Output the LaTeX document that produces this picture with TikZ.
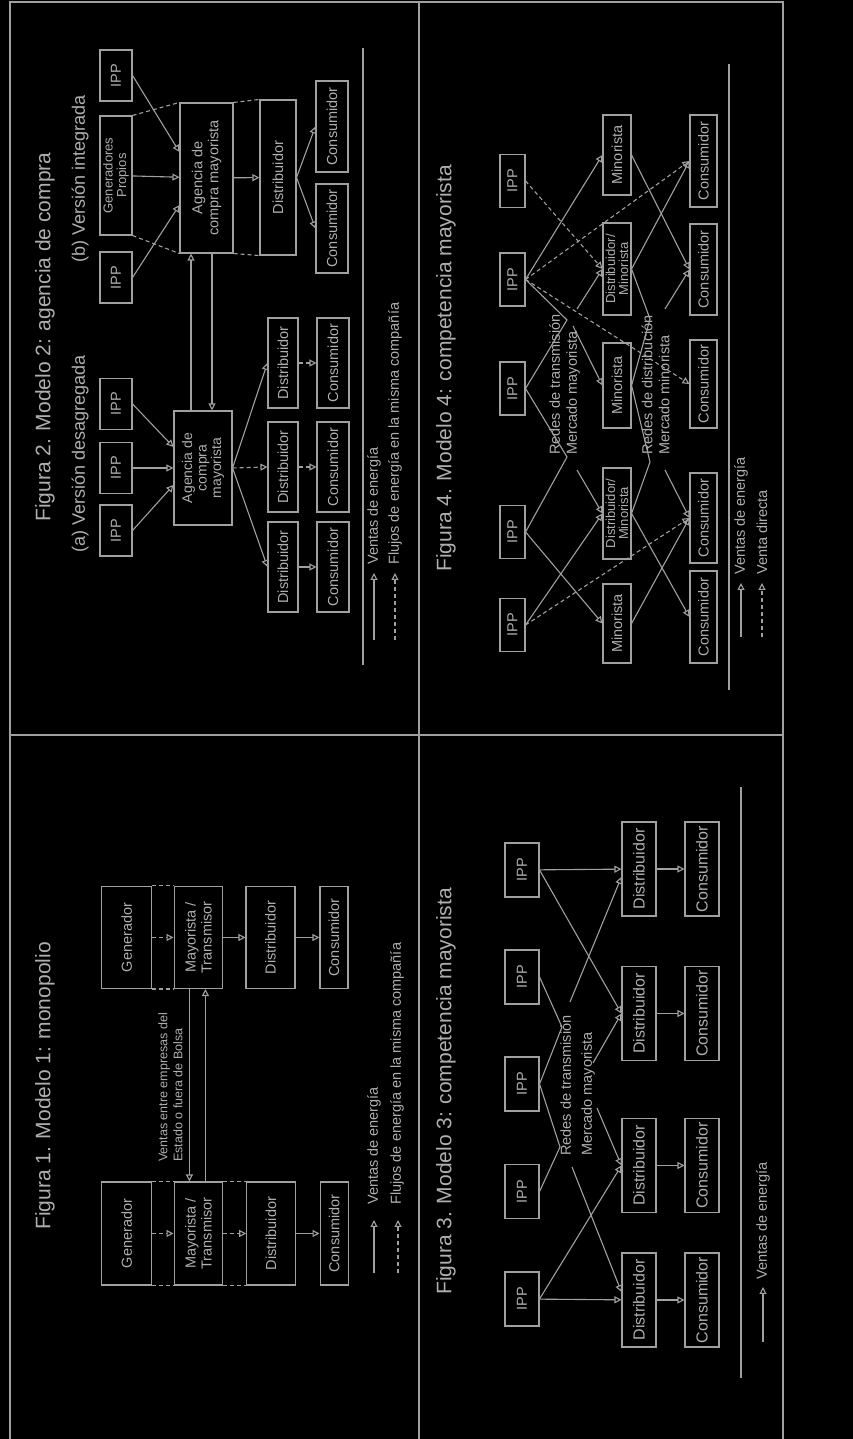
\documentclass[tikz,border=0pt]{standalone}
\usepackage{fontspec}
\setmainfont{Liberation Sans}
\usetikzlibrary{arrows.meta,calc}
\definecolor{figline}{RGB}{160,160,160}
\definecolor{figtext}{RGB}{175,175,175}
\newcommand{\ttlfont}{\fontsize{21}{25}\selectfont}
\newcommand{\subfont}{\fontsize{18}{21}\selectfont}
\newcommand{\boxfont}{\fontsize{14.5}{16}\selectfont}
\newcommand{\lblfont}{\fontsize{14.5}{21}\selectfont}

\begin{document}
\begin{tikzpicture}[x=1pt, y=1pt, rotate=90, transform shape,
    box/.style={rectangle, draw=figline, line width=1.1pt, inner sep=0pt, align=center, text=figtext, font=\boxfont},
    ttl/.style={anchor=west, inner sep=0pt, text=figtext, font=\ttlfont},
    sub/.style={anchor=west, inner sep=0pt, text=figtext, font=\subfont},
    lbl/.style={anchor=west, inner sep=0pt, align=left, text=figtext, font=\lblfont},
    edge/.style={draw=figline, line width=1.1pt},
    sale/.style={edge, -{Triangle[open, length=7pt, width=7pt]}},
    flow/.style={sale, dash pattern=on 4pt off 3pt},
    link/.style={edge, dash pattern=on 4pt off 3pt}
  ]
  % page and frame
  \fill[black] (0,0) rectangle (1439,-853);
  \useasboundingbox (0,0) rectangle (1439,-853);
  \coordinate (fr1) at (0,-10);
  \coordinate (fr2) at (1437,-10);
  \coordinate (fr3) at (1437,-783);
  \coordinate (fr4) at (0,-783);
  \coordinate (fr5) at (0,-419);
  \coordinate (fr6) at (1437,-419);
  \coordinate (fr7) at (704,-10);
  \coordinate (fr8) at (704,-783);
  \draw[edge] (fr1) -- (fr2) -- (fr3) -- (fr4);
  \draw[edge] (fr5) -- (fr6);
  \draw[edge] (fr7) -- (fr8);

  % Figura 1: monopolio
  \node[ttl] (t1) at (209,-45) {Figura 1. Modelo 1: monopolio};
  \node[box, minimum width=103, minimum height=50] (f1genA) at (205.5,-126.7) {Generador};
  \node[box, minimum width=103, minimum height=48.7] (f1mayA) at (205.5,-198.4) {Mayorista /\\Transmisor};
  \node[box, minimum width=103, minimum height=48.3] (f1disA) at (205.5,-270.9) {Distribuidor};
  \node[box, minimum width=103, minimum height=28.3] (f1conA) at (205.5,-334.2) {Consumidor};
  \node[box, minimum width=102, minimum height=50] (f1genB) at (501.5,-126.7) {Generador};
  \node[box, minimum width=102, minimum height=48.7] (f1mayB) at (501.5,-198.4) {Mayorista /\\Transmisor};
  \node[box, minimum width=102, minimum height=49] (f1disB) at (501.5,-270.5) {Distribuidor};
  \node[box, minimum width=102, minimum height=28] (f1conB) at (501.5,-334) {Consumidor};
  \draw[link] (f1genA.south west) -- (f1mayA.north west);
  \draw[link] (f1genA.south east) -- (f1mayA.north east);
  \draw[link] (f1mayA.south west) -- (f1disA.north west);
  \draw[link] (f1mayA.south east) -- (f1disA.north east);
  \draw[link] (f1genB.south west) -- (f1mayB.north west);
  \draw[link] (f1genB.south east) -- (f1mayB.north east);
  \draw[flow] (f1genA) -- (f1mayA);
  \draw[flow] (f1mayA) -- (f1disA);
  \draw[sale] (f1disA) -- (f1conA);
  \draw[flow] (f1genB) -- (f1mayB);
  \draw[sale] (f1mayB) -- (f1disB);
  \draw[sale] (f1disB) -- (f1conB);
  \draw[sale] ($(f1mayB.west)+(0,9)$) -- ($(f1mayA.east)+(0,9)$);
  \draw[sale] ($(f1mayA.east)+(0,-7)$) -- ($(f1mayB.west)+(0,-7)$);
  \node[lbl, font=\fontsize{12.5}{15}\selectfont] (f1note) at (277,-170.5) {Ventas entre empresas del\\Estado o fuera de Bolsa};
  % legend 1
  \coordinate (l1a) at (166,-374);
  \coordinate (l1b) at (219,-374);
  \coordinate (l1c) at (166,-398);
  \coordinate (l1d) at (219,-398);
  \draw[sale] (l1a) -- (l1b);
  \draw[flow] (l1c) -- (l1d);
  \node[lbl] (l1s) at (234,-374) {Ventas de energía};
  \node[lbl] (l1f) at (234,-397) {Flujos de energía en la misma compañía};

  % Figura 2: agencia de compra
  \node[ttl] (t2) at (917,-45) {Figura 2. Modelo 2: agencia de compra};
  \node[sub] (t2a) at (886,-80) {(a) Versión desagregada};
  \node[sub] (t2b) at (1176,-80) {(b) Versión integrada};
  % (a)
  \node[box, minimum width=51, minimum height=32] (f2ipp1) at (908.5,-116) {IPP};
  \node[box, minimum width=51, minimum height=32] (f2ipp2) at (971,-116) {IPP};
  \node[box, minimum width=51, minimum height=32] (f2ipp3) at (1035,-116) {IPP};
  \node[box, minimum width=114, minimum height=58, font=\fontsize{14}{14.5}\selectfont] (f2aga) at (971,-203) {Agencia de\\compra\\mayorista};
  \node[box, minimum width=90, minimum height=30] (f2dis1) at (872,-283) {Distribuidor};
  \node[box, minimum width=90, minimum height=30] (f2dis2) at (972,-283) {Distribuidor};
  \node[box, minimum width=90, minimum height=30] (f2dis3) at (1076,-283) {Distribuidor};
  \node[box, minimum width=90, minimum height=32] (f2con1) at (872,-333) {Consumidor};
  \node[box, minimum width=90, minimum height=32] (f2con2) at (972,-333) {Consumidor};
  \node[box, minimum width=90, minimum height=32] (f2con3) at (1076,-333) {Consumidor};
  \draw[sale] (f2ipp1.south) -- ($(f2aga.north)+(-17,0)$);
  \draw[sale] (f2ipp2) -- (f2aga);
  \draw[sale] (f2ipp3.south) -- ($(f2aga.north)+(21,0)$);
  \draw[sale] (f2aga.south) -- (f2dis1.north);
  \draw[flow] (f2aga.south) -- (f2dis2.north);
  \draw[sale] (f2aga.south) -- (f2dis3.north);
  \draw[sale] (f2dis1) -- (f2con1);
  \draw[flow] (f2dis2) -- (f2con2);
  \draw[flow] (f2dis3) -- (f2con3);
  % (b)
  \node[box, minimum width=51, minimum height=32] (f2ipp4) at (1161.5,-116) {IPP};
  \node[box, minimum width=119, minimum height=32, font=\fontsize{13}{13.5}\selectfont] (f2gen) at (1263.5,-116) {Generadores\\Propios};
  \node[box, minimum width=51, minimum height=32] (f2ipp5) at (1363.5,-116) {IPP};
  \node[box, minimum width=150, minimum height=53] (f2agb) at (1261,-206.5) {Agencia de\\compra mayorista};
  \node[box, minimum width=155, minimum height=36] (f2disb) at (1261.5,-278) {Distribuidor};
  \node[box, minimum width=89, minimum height=32] (f2con4) at (1210.5,-332) {Consumidor};
  \node[box, minimum width=91, minimum height=32] (f2con5) at (1312.5,-332) {Consumidor};
  \draw[link] (f2gen.south west) -- (f2agb.north west);
  \draw[link] (f2gen.south east) -- (f2agb.north east);
  \draw[link] (f2agb.south west) -- (f2disb.north west);
  \draw[link] (f2agb.south east) -- (f2disb.north east);
  \draw[sale] (f2ipp4.south) -- ($(f2agb.north)+(-27,0)$);
  \draw[sale] (f2gen) -- (f2agb);
  \draw[sale] (f2ipp5.south) -- ($(f2agb.north)+(26,0)$);
  \draw[sale] (f2agb) -- (f2disb);
  \draw[sale] (f2disb.south) -- (f2con4.north);
  \draw[sale] (f2disb.south) -- (f2con5.north);
  % between (a) and (b)
  \draw[sale] ($(f2aga.east)+(0,12)$) -- ($(f2agb.west)+(0,15.5)$);
  \draw[sale] ($(f2agb.west)+(0,-5.5)$) -- ($(f2aga.east)+(0,-9)$);
  % legend 2
  \coordinate (s2a) at (774,-363);
  \coordinate (s2b) at (1391,-363);
  \draw[edge] (s2a) -- (s2b);
  \coordinate (l2a) at (799,-374);
  \coordinate (l2b) at (866,-374);
  \coordinate (l2c) at (799,-395);
  \coordinate (l2d) at (866,-395);
  \draw[sale] (l2a) -- (l2b);
  \draw[flow] (l2c) -- (l2d);
  \node[lbl] (l2s) at (874,-374) {Ventas de energía};
  \node[lbl] (l2f) at (874,-395) {Flujos de energía en la misma compañía};

  % Figura 3: competencia mayorista
  \node[ttl] (t3) at (144,-446) {Figura 3. Modelo 3: competencia mayorista};
  \node[box, minimum width=54, minimum height=34] (f3ipp1) at (140,-522) {IPP};
  \node[box, minimum width=54, minimum height=34] (f3ipp2) at (247.5,-522) {IPP};
  \node[box, minimum width=54, minimum height=34] (f3ipp3) at (355,-522) {IPP};
  \node[box, minimum width=54, minimum height=34] (f3ipp4) at (462,-522) {IPP};
  \node[box, minimum width=54, minimum height=34] (f3ipp5) at (569,-522) {IPP};
  \node[box, minimum width=94, minimum height=34, font=\fontsize{16}{18}\selectfont] (f3dis1) at (139,-639) {Distribuidor};
  \node[box, minimum width=94, minimum height=34, font=\fontsize{16}{18}\selectfont] (f3dis2) at (273.5,-639) {Distribuidor};
  \node[box, minimum width=94, minimum height=34, font=\fontsize{16}{18}\selectfont] (f3dis3) at (425.5,-639) {Distribuidor};
  \node[box, minimum width=94, minimum height=34, font=\fontsize{16}{18}\selectfont] (f3dis4) at (570,-639) {Distribuidor};
  \node[box, minimum width=94, minimum height=34, font=\fontsize{16}{18}\selectfont] (f3con1) at (139,-702) {Consumidor};
  \node[box, minimum width=94, minimum height=34, font=\fontsize{16}{18}\selectfont] (f3con2) at (273.5,-702) {Consumidor};
  \node[box, minimum width=94, minimum height=34, font=\fontsize{16}{18}\selectfont] (f3con3) at (425.5,-702) {Consumidor};
  \node[box, minimum width=94, minimum height=34, font=\fontsize{16}{18}\selectfont] (f3con4) at (570,-702) {Consumidor};
  \node[lbl] (f3net) at (283,-577.5) {Redes de transmisión\\Mercado mayorista};
  \coordinate (f3v1) at (292,-560);
  \coordinate (f3v2) at (412,-562);
  \coordinate (f3h1) at (272,-572);
  \coordinate (f3h2) at (331,-597);
  \coordinate (f3h3) at (376,-593);
  \coordinate (f3h4) at (437,-570);
  \draw[edge] (f3ipp2.south) -- (f3v1) -- (f3ipp3.south) -- (f3v2) -- (f3ipp4.south);
  \draw[sale] (f3h1) -- ($(f3dis1.north)+(8,0)$);
  \draw[sale] (f3h2) -- (f3dis2.north);
  \draw[sale] (f3h3) -- (f3dis3.north);
  \draw[sale] (f3h4) -- ($(f3dis4.north)+(-8,0)$);
  \draw[sale] (f3ipp1) -- (f3dis1);
  \draw[sale] (f3ipp1.south) -- (f3dis2.north);
  \draw[sale] (f3ipp5) -- (f3dis4);
  \draw[sale] (f3ipp5.south) -- (f3dis3.north);
  \draw[sale] (f3dis1) -- (f3con1);
  \draw[sale] (f3dis2) -- (f3con2);
  \draw[sale] (f3dis3) -- (f3con3);
  \draw[sale] (f3dis4) -- (f3con4);
  % legend 3
  \coordinate (s3a) at (61,-741);
  \coordinate (s3b) at (652,-741);
  \draw[edge] (s3a) -- (s3b);
  \coordinate (l3a) at (97,-763);
  \coordinate (l3b) at (152,-763);
  \draw[sale] (l3a) -- (l3b);
  \node[lbl] (l3s) at (159,-763) {Ventas de energía};

  % Figura 4: competencia minorista
  \node[ttl] (t4) at (867,-446) {Figura 4. Modelo 4: competencia mayorista};
  \node[box, minimum width=53, minimum height=25] (f4ipp1) at (814,-512.5) {IPP};
  \node[box, minimum width=53, minimum height=25] (f4ipp2) at (907,-512.5) {IPP};
  \node[box, minimum width=53, minimum height=25] (f4ipp3) at (1050.5,-512.5) {IPP};
  \node[box, minimum width=53, minimum height=25] (f4ipp4) at (1159.5,-512.5) {IPP};
  \node[box, minimum width=53, minimum height=25] (f4ipp5) at (1258,-512.5) {IPP};
  \node[box, minimum width=79, minimum height=28] (f4min1) at (815.5,-617) {Minorista};
  \node[box, minimum width=91, minimum height=28, font=\fontsize{13}{13}\selectfont] (f4dm2) at (925.5,-617) {Distribuidor/\\Minorista};
  \node[box, minimum width=85, minimum height=28] (f4min3) at (1053.5,-617) {Minorista};
  \node[box, minimum width=92, minimum height=28, font=\fontsize{13}{13}\selectfont] (f4dm4) at (1170,-617) {Distribuidor/\\Minorista};
  \node[box, minimum width=80, minimum height=28] (f4min5) at (1284,-617) {Minorista};
  \node[box, minimum width=92, minimum height=27] (f4con1) at (822,-703.5) {Consumidor};
  \node[box, minimum width=90, minimum height=27] (f4con2) at (921,-703.5) {Consumidor};
  \node[box, minimum width=88, minimum height=27] (f4con3) at (1055,-703.5) {Consumidor};
  \node[box, minimum width=91, minimum height=27] (f4con4) at (1169.5,-703.5) {Consumidor};
  \node[box, minimum width=92, minimum height=27] (f4con5) at (1278,-703.5) {Consumidor};
  \node[lbl, font=\fontsize{14.5}{17}\selectfont] (f4net1) at (984,-564.5) {Redes de transmisión\\Mercado mayorista};
  \node[lbl, font=\fontsize{14.5}{17}\selectfont] (f4net2) at (984,-655.5) {Redes de distribución\\Mercado minorista};
  \coordinate (f4v1) at (982,-567);
  \coordinate (f4v2) at (1119,-567);
  \coordinate (f4v3) at (977,-650);
  \coordinate (f4v4) at (1120,-650);
  \coordinate (f4h1) at (969,-577);
  \coordinate (f4h2) at (1130,-577);
  \coordinate (f4h3) at (969,-665);
  \coordinate (f4h4) at (1130,-665);
  \coordinate (f4h5) at (1113,-573);
  \draw[edge] (f4ipp2.south) -- (f4v1) -- (f4ipp3.south) -- (f4v2) -- (f4ipp4.south);
  \draw[edge] (f4dm2.south) -- (f4v3) -- (f4min3.south) -- (f4v4) -- (f4dm4.south);
  \draw[sale] (f4h1) -- (f4dm2.north);
  \draw[sale] (f4h2) -- (f4dm4.north);
  \draw[sale] (f4h5) -- (f4min3.north);
  \draw[sale] (f4h3) -- (f4con2.north);
  \draw[sale] (f4h4) -- (f4con4.north);
  \draw[sale] (f4ipp1.south) -- (f4dm2.north);
  \draw[sale] (f4ipp2.south) -- (f4min1.north);
  \draw[sale] (f4ipp4.south) -- (f4min5.north);
  \draw[flow] (f4ipp1.south) -- (f4con2.north);
  \draw[flow] (f4ipp4.south) -- (f4con5.north);
  \draw[flow] (f4ipp4.south) -- (f4con3.north);
  \draw[flow] (f4ipp5.south) -- (f4dm4.north);
  \draw[sale] (f4dm2.south) -- (f4con1.north);
  \draw[sale] (f4min1.south) -- (f4con2.north);
  \draw[sale] (f4min5.south) -- (f4con4.north);
  \draw[sale] (f4dm4.south) -- (f4con5.north);
  % legend 4
  \coordinate (s4a) at (749,-729);
  \coordinate (s4b) at (1375,-729);
  \draw[edge] (s4a) -- (s4b);
  \coordinate (l4a) at (802,-741);
  \coordinate (l4b) at (856,-741);
  \coordinate (l4c) at (802,-762);
  \coordinate (l4d) at (856,-762);
  \draw[sale] (l4a) -- (l4b);
  \draw[flow] (l4c) -- (l4d);
  \node[lbl] (l4s) at (864,-741) {Ventas de energía};
  \node[lbl] (l4f) at (864,-762) {Venta directa};
\end{tikzpicture}
\end{document}
